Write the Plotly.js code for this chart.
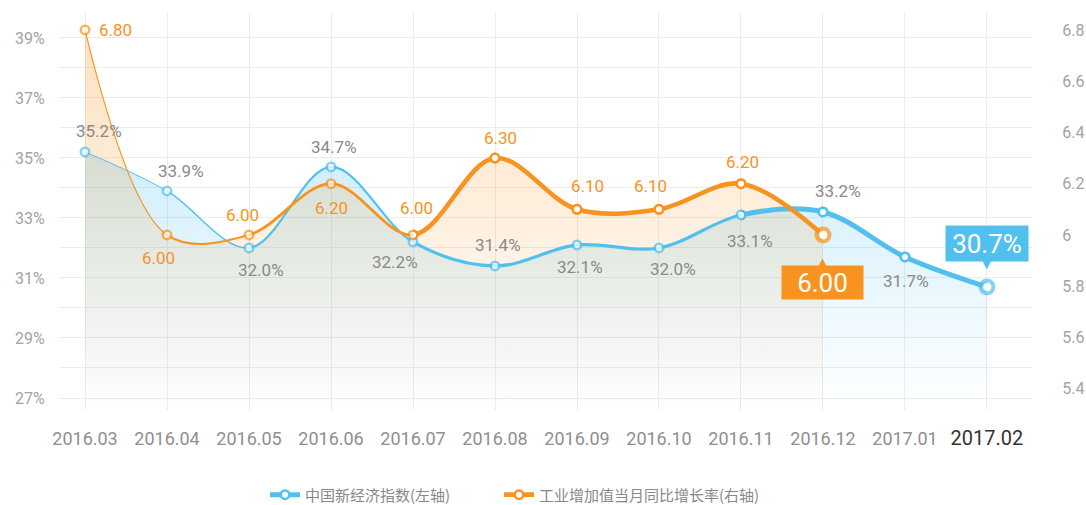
<!DOCTYPE html>
<html>
<head>
<meta charset="utf-8">
<script src="https://cdn.plot.ly/plotly-3.0.1.min.js"></script>
<style>
html,body{margin:0;padding:0;background:#fff;}
#chart{width:1086px;height:505px;}
</style>
</head>
<body>
<div id="chart"></div>
<script>
// ---------------- data ----------------
const months = ['2016.03','2016.04','2016.05','2016.06','2016.07','2016.08','2016.09','2016.10','2016.11','2016.12','2017.01','2017.02'];
const newEconomyIndex = [35.2, 33.9, 32.0, 34.7, 32.2, 31.4, 32.1, 32.0, 33.1, 33.2, 31.7, 30.7];
const industrialGrowth = [6.80, 6.00, 6.00, 6.20, 6.00, 6.30, 6.10, 6.10, 6.20, 6.00];
const leftTicks = [27, 29, 31, 33, 35, 37, 39];
const rightTicks = [5.4, 5.6, 5.8, 6.0, 6.2, 6.4, 6.6, 6.8];
const seriesNames = ['中国新经济指数(左轴)', '工业增加值当月同比增长率(右轴)'];

// ---------------- style config ----------------
const BLUE = '#52c0ef', ORANGE = '#f7931e';
const X_RANGE = [-0.305, 11.549];
const Y_RANGE = [26.6, 39.83];
const Y2_RANGE = [5.317, 6.866];
const NUM_FONT = 'Roboto, "Open Sans", sans-serif';
const TICK_FONT = 'Roboto, sans-serif';
const CJK_FONT = '"Noto Sans CJK SC", "Noto Sans", sans-serif';
// [from index, to index, line width]
const blueSegs = [[0,1,1],[1,2,1.4],[2,4,2.2],[4,8,3.2],[8,11,5]];
const orangeSegs = [[0,1,1.1],[1,2,2],[2,4,2.8],[4,9,4.6]];
// label offsets [xshift, yshift]
const blueLabelOff = [[14,21],[14,20],[12,-22],[3,20],[-18,-20],[3,21],[3,-22],[14,-21],[9,-26],[15,21],[1,-24]];
const orangeLabelOff = [[0,0],[-9,-23],[-7,20],[0,-24],[3,27],[5,20],[10,23],[-8,23],[2,22]];

const frac = v => (v - X_RANGE[0]) / (X_RANGE[1] - X_RANGE[0]);
const orangeMonths = months.slice(0, industrialGrowth.length);

const legendBase = {
  orientation: 'h', xref: 'container', yref: 'container', xanchor: 'left', y: 0.02, yanchor: 'middle',
  font: {family: CJK_FONT, size: 15, color: '#888888'}, itemwidth: 30, bgcolor: 'rgba(0,0,0,0)'
};

const data = [];
const layout = {
  width: 1086, height: 505, autosize: false,
  margin: {l: 60, r: 54, t: 13, b: 95, pad: 0},
  paper_bgcolor: '#ffffff', plot_bgcolor: 'rgba(0,0,0,0)',
  hovermode: false,
  showlegend: true,
  legend: Object.assign({}, legendBase, {x: 265 / 1086}),
  legend2: Object.assign({}, legendBase, {x: 499 / 1086}),
  xaxis: {
    type: 'category', range: X_RANGE, domain: [0, 1], anchor: 'y', automargin: false,
    showgrid: true, gridcolor: '#ececec', gridwidth: 1, zeroline: false, showline: false,
    tickmode: 'array', tickvals: months, tickangle: 0,
    ticktext: months.map((m, i) => i === months.length - 1 ? '<span style="color:#333333;font-size:20px">' + m + '</span>' : m),
    ticks: 'outside', ticklen: 12, tickcolor: 'rgba(0,0,0,0)',
    tickfont: {family: TICK_FONT, size: 18, color: '#8f8f8f'}
  },
  yaxis: {
    range: Y_RANGE, domain: [0, 1], anchor: 'x', automargin: false,
    tickmode: 'array', tickvals: leftTicks, ticktext: leftTicks.map(v => v + '%'),
    showgrid: true, gridcolor: '#ececec', gridwidth: 1, zeroline: false, showline: false,
    minor: {tickmode: 'linear', tick0: 26, dtick: 1, showgrid: true, gridcolor: '#ececec', gridwidth: 1, ticks: ''},
    ticks: 'outside', ticklen: 11, tickcolor: 'rgba(0,0,0,0)',
    tickfont: {family: NUM_FONT, size: 16, color: '#a3a3a3'}
  },
  yaxis2: {
    range: Y2_RANGE, overlaying: 'y', side: 'right', anchor: 'x', automargin: false,
    tickmode: 'array', tickvals: rightTicks, ticktext: rightTicks.map(v => String(v)),
    showgrid: false, zeroline: false, showline: false,
    ticks: 'outside', ticklen: 26, tickcolor: 'rgba(0,0,0,0)',
    tickfont: {family: NUM_FONT, size: 16, color: '#a3a3a3'}
  },
  yaxis3: {range: Y_RANGE, domain: [0, 1], anchor: 'free', position: 0, visible: false, fixedrange: true},
  yaxis4: {range: Y2_RANGE, domain: [0, 1], anchor: 'free', position: 0, visible: false, fixedrange: true},
  annotations: []
};

// area fills
data.push({
  type: 'scatter', x: months, y: newEconomyIndex, xaxis: 'x', yaxis: 'y', mode: 'lines',
  line: {shape: 'spline', smoothing: 1, width: 0, color: BLUE},
  fill: 'tozeroy',
  fillgradient: {type: 'vertical', start: Y_RANGE[0], stop: Math.max(...newEconomyIndex),
    colorscale: [[0, 'rgba(82,192,239,0)'], [1, 'rgba(82,192,239,0.27)']]},
  hoverinfo: 'skip', showlegend: false
});
data.push({
  type: 'scatter', x: orangeMonths, y: industrialGrowth, xaxis: 'x', yaxis: 'y2', mode: 'lines',
  line: {shape: 'spline', smoothing: 1, width: 0, color: ORANGE},
  fill: 'tozeroy',
  fillgradient: {type: 'vertical', start: Y2_RANGE[0], stop: Math.max(...industrialGrowth),
    colorscale: [[0, 'rgba(247,147,30,0)'], [1, 'rgba(247,147,30,0.28)']]},
  hoverinfo: 'skip', showlegend: false
});

let axN = 2;
function addSegments(segs, xs, ys, yaxis, color, name, legendId) {
  segs.forEach(([i0, i1, w], k) => {
    const id = axN++;
    layout['xaxis' + id] = {type: 'category', domain: [frac(i0), frac(i1)], range: [i0, i1],
      visible: false, anchor: yaxis, fixedrange: true};
    const last = k === segs.length - 1;
    data.push({
      type: 'scatter', x: xs, y: ys, xaxis: 'x' + id, yaxis: yaxis,
      mode: last ? 'lines+markers' : 'lines',
      line: {color: color, width: w, shape: 'spline', smoothing: 1},
      marker: {size: 8.5, color: '#ffffff', line: {color: color, width: 2.5}},
      name: name, showlegend: last, legend: legendId, hoverinfo: 'skip'
    });
  });
}
addSegments(blueSegs, months, newEconomyIndex, 'y3', BLUE, seriesNames[0], 'legend');
addSegments(orangeSegs, orangeMonths, industrialGrowth, 'y4', ORANGE, seriesNames[1], 'legend2');

// markers on top
const mId = axN++;
layout['xaxis' + mId] = {type: 'category', domain: [0, 1], range: X_RANGE, visible: false, anchor: 'y3', fixedrange: true};
data.push({
  type: 'scatter', x: months, y: newEconomyIndex, xaxis: 'x' + mId, yaxis: 'y3', mode: 'markers', cliponaxis: false,
  marker: {size: newEconomyIndex.map((v, i) => i === newEconomyIndex.length - 1 ? 13 : 8.5), color: '#ffffff',
    line: {color: BLUE, width: newEconomyIndex.map((v, i) => i === newEconomyIndex.length - 1 ? 4 : 2.5)}},
  hoverinfo: 'skip', showlegend: false
});
data.push({
  type: 'scatter', x: orangeMonths, y: industrialGrowth, xaxis: 'x' + mId, yaxis: 'y4', mode: 'markers', cliponaxis: false,
  marker: {size: industrialGrowth.map((v, i) => i === industrialGrowth.length - 1 ? 13 : 8.5), color: '#ffffff',
    line: {color: ORANGE, width: industrialGrowth.map((v, i) => i === industrialGrowth.length - 1 ? 4 : 2.5)}},
  hoverinfo: 'skip', showlegend: false
});

// data labels
newEconomyIndex.forEach((v, i) => {
  if (i < newEconomyIndex.length - 1) {
    const [xs, ys] = blueLabelOff[i];
    layout.annotations.push({xref: 'x', yref: 'y', x: i, y: v, text: v.toFixed(1) + '%', showarrow: false,
      xshift: xs, yshift: ys, font: {family: NUM_FONT, size: 17, color: '#8a8a8a'}});
  } else {
    layout.annotations.push({xref: 'x', yref: 'y', x: i, y: v, text: v.toFixed(1) + '%', showarrow: false,
      yshift: 43.5, width: 76, height: 29, borderpad: 3, bgcolor: BLUE,
      font: {family: NUM_FONT, size: 26, color: '#ffffff'}});
    layout.annotations.push({xref: 'x', yref: 'y', x: i, y: v, text: '▼', showarrow: false,
      yshift: 23, font: {family: 'DejaVu Sans', size: 12, color: BLUE}});
  }
});
industrialGrowth.forEach((v, i) => {
  if (i === 0) {
    layout.annotations.push({xref: 'x', yref: 'y2', x: i, y: v, text: v.toFixed(2), showarrow: false,
      xanchor: 'left', xshift: 12, yshift: 0, font: {family: NUM_FONT, size: 17, color: ORANGE}});
  } else if (i < industrialGrowth.length - 1) {
    const [xs, ys] = orangeLabelOff[i];
    layout.annotations.push({xref: 'x', yref: 'y2', x: i, y: v, text: v.toFixed(2), showarrow: false,
      xshift: xs, yshift: ys, font: {family: NUM_FONT, size: 17, color: ORANGE}});
  } else {
    layout.annotations.push({xref: 'x', yref: 'y2', x: i, y: v, text: v.toFixed(2), showarrow: false,
      yshift: -47.5, width: 75, height: 27, borderpad: 3, bgcolor: ORANGE,
      font: {family: NUM_FONT, size: 26, color: '#ffffff'}});
    layout.annotations.push({xref: 'x', yref: 'y2', x: i, y: v, text: '▲', showarrow: false,
      yshift: -27, font: {family: 'DejaVu Sans', size: 12, color: ORANGE}});
  }
});

Plotly.newPlot('chart', data, layout, {displayModeBar: false, staticPlot: true});
</script>
</body>
</html>
